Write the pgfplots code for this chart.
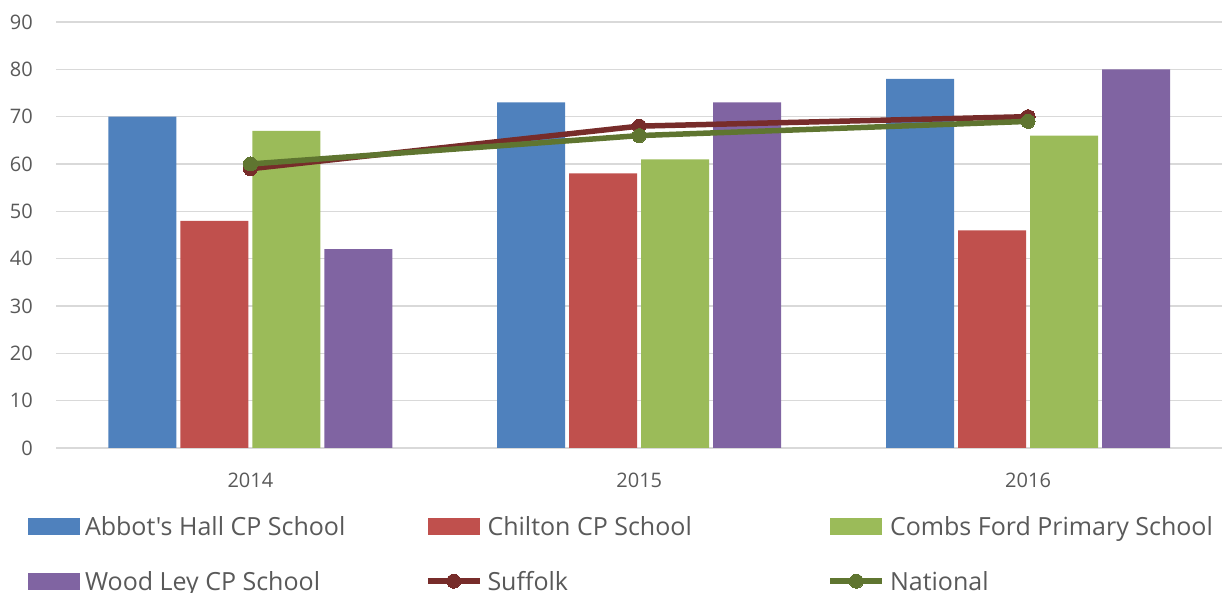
\documentclass[border=0pt]{standalone}
\usepackage{fontspec}
\setmainfont{Open Sans}[Ligatures=TeXOff]
\usepackage{pgfplots}
\pgfplotsset{compat=1.18}
\definecolor{cBlue}{HTML}{4F81BD}
\definecolor{cRed}{HTML}{C0504D}
\definecolor{cGreen}{HTML}{9BBB59}
\definecolor{cPurple}{HTML}{8064A2}
\definecolor{cSuffolk}{HTML}{772C2A}
\definecolor{cNational}{HTML}{5F7530}
\definecolor{gridgray}{HTML}{D9D9D9}
\definecolor{textgray}{HTML}{595959}
\newcommand{\lgtext}[1]{\makebox[340pt][l]{\rule[-7pt]{0pt}{27pt}#1}}
\begin{document}
\begin{tikzpicture}
\begin{axis}[
  at={(56pt,145pt)}, anchor=south west,
  scale only axis, width=1166.5pt, height=426pt,
  xmin=-0.5, xmax=2.5, ymin=0, ymax=90,
  xtick={0,1,2}, xticklabels={2014,2015,2016},
  ytick={0,10,...,90},
  major tick length=0pt,
  axis line style={draw=none},
  ymajorgrids, grid style={color=gridgray, line width=1.3pt},
  tick label style={font=\fontsize{20}{24}\selectfont, text=textgray},
  /pgf/number format/assume math mode=true,
  yticklabel style={anchor=east, inner sep=0pt, xshift=-23pt},
  xticklabel style={anchor=north, inner sep=0pt, yshift=-25pt},
  bar width=68pt,
  legend columns=3,
  legend cell align=left,
  legend style={at={(axis description cs:-0.024,-0.1596)}, anchor=north west,
    draw=none, fill=none, inner sep=0pt, outer sep=0pt,
    font=\fontsize{25}{30}\selectfont, text=textgray, row sep=33pt,
    nodes={inner sep=0pt},
    /tikz/every odd column/.append style={column sep=5pt},
    /tikz/every even column/.append style={column sep=0pt}},
  barleg/.style={legend image code/.code={\fill[##1] (0pt,-8.5pt) rectangle (52pt,8.5pt);}},
  lineleg/.style={legend image code/.code={\draw[mark repeat=2,mark phase=2,##1] plot coordinates {(0pt,0pt) (26pt,0pt) (52pt,0pt)};}},
]
\addplot[ybar, bar shift=-108pt, fill=cBlue, draw=none, barleg] coordinates {(0,70) (1,73) (2,78)};
\addlegendentry{\lgtext{Abbot's Hall CP School}}
\addplot[ybar, bar shift=-36pt, fill=cRed, draw=none, barleg] coordinates {(0,48) (1,58) (2,46)};
\addlegendentry{\lgtext{Chilton CP School}}
\addplot[ybar, bar shift=36pt, fill=cGreen, draw=none, barleg] coordinates {(0,67) (1,61) (2,66)};
\addlegendentry{\lgtext{Combs Ford Primary School}}
\addplot[ybar, bar shift=108pt, fill=cPurple, draw=none, barleg] coordinates {(0,42) (1,73) (2,80)};
\addlegendentry{\lgtext{Wood Ley CP School}}
\addplot[color=cSuffolk, line width=5.5pt, mark=*, mark size=7pt, mark options={fill=cSuffolk, line width=0pt}, lineleg] coordinates {(0,59) (1,68) (2,70)};
\addlegendentry{\lgtext{Suffolk}}
\addplot[color=cNational, line width=5.5pt, mark=*, mark size=7pt, mark options={fill=cNational, line width=0pt}, lineleg] coordinates {(0,60) (1,66) (2,69)};
\addlegendentry{\lgtext{National}}
\end{axis}
\pgfresetboundingbox
\path (0pt,0pt) rectangle (1222pt,593pt);
\end{tikzpicture}
\end{document}
